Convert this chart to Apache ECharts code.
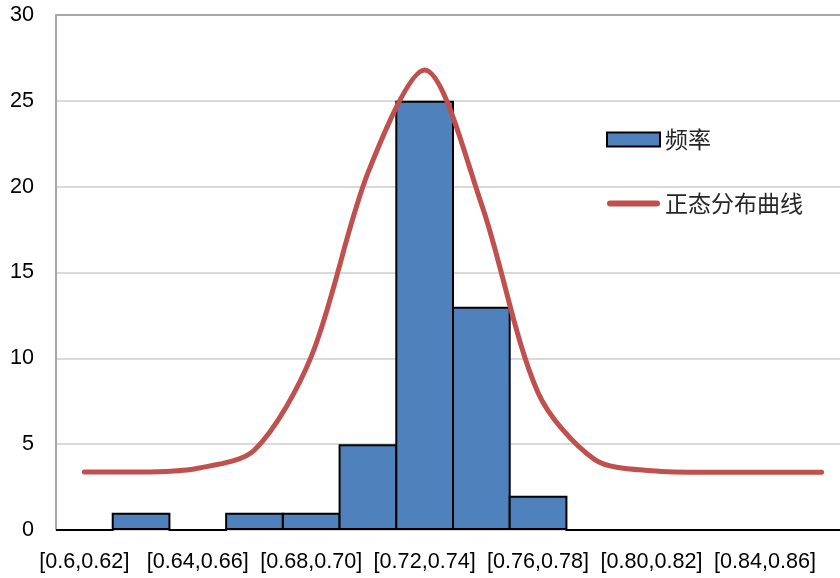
<!DOCTYPE html>
<html>
<head>
<meta charset="utf-8">
<script src="https://cdn.jsdelivr.net/npm/echarts@6/dist/echarts.min.js"></script>
<style>
  html, body { margin: 0; padding: 0; background: #ffffff; }
  #chart { width: 840px; height: 578px; }
</style>
</head>
<body>
<div id="chart"></div>
<script>
// Histogram bins (class intervals)
const categories = [
  '[0.6,0.62]', '[0.62,0.64]', '[0.64,0.66]', '[0.66,0.68]', '[0.68,0.70]',
  '[0.70,0.72]', '[0.72,0.74]', '[0.74,0.76]', '[0.76,0.78]', '[0.78,0.80]',
  '[0.80,0.82]', '[0.82,0.84]', '[0.84,0.86]', '[0.86,0.88]'
];
// Frequency per bin
const frequency = [0, 1, 0, 1, 1, 5, 25, 13, 2, 0, 0, 0, 0, 0];
// Fitted normal distribution curve, sampled at each bin centre
const normalCurve = [3.38, 3.38, 3.6, 4.66, 10.1, 20.8, 26.8, 19.0, 8.0, 4.1, 3.45, 3.36, 3.36, 3.37];
// Y axis ticks
const yTicks = { min: 0, max: 30, interval: 5 };

const chart = echarts.init(document.getElementById('chart'), null, { renderer: 'canvas' });

const latin = '"Liberation Sans", Arial, sans-serif';
const cjk = '"Noto Sans CJK SC", "Liberation Sans", sans-serif';

// Rounded bar used as the legend marker of the curve
const lineIcon = 'path://M3,0 H50 A3,3 0 0 1 50,6 H3 A3,3 0 0 1 3,0 Z';

chart.setOption({
  animation: false,
  backgroundColor: '#ffffff',
  grid: {
    left: 56, top: 15, width: 794, bottom: 48,
    containLabel: false,
    outerBoundsMode: 'none'
  },
  legend: {
    orient: 'vertical',
    left: 606,
    top: 128,
    padding: 0,
    itemWidth: 53,
    itemHeight: 14,
    itemGap: 41,
    textStyle: { fontFamily: cjk, fontSize: 23, lineHeight: 23, color: '#262626' },
    data: [
      { name: '频率', icon: 'rect' },
      { name: '正态分布曲线', icon: lineIcon }
    ]
  },
  xAxis: {
    type: 'category',
    data: categories,
    boundaryGap: true,
    axisLine: { show: true, lineStyle: { color: '#d9d9d9', width: 2 } },
    axisTick: { show: false },
    axisLabel: {
      interval: 1,
      margin: 21,
      fontFamily: latin,
      fontSize: 21.6,
      color: '#000000'
    },
    splitLine: { show: false }
  },
  yAxis: {
    type: 'value',
    min: yTicks.min,
    max: yTicks.max,
    interval: yTicks.interval,
    axisLine: { show: true, lineStyle: { color: '#a6a6a6', width: 2 } },
    axisTick: { show: false },
    axisLabel: {
      margin: 22,
      fontFamily: latin,
      fontSize: 21.6,
      color: '#000000'
    },
    splitLine: {
      show: true,
      lineStyle: {
        width: 2,
        color: ['#d9d9d9', '#d9d9d9', '#d9d9d9', '#d9d9d9', '#d9d9d9', '#d9d9d9', '#a6a6a6']
      }
    }
  },
  series: [
    {
      name: '频率',
      type: 'bar',
      data: frequency,
      // borders are drawn inside each bar, so widen slightly to let neighbours share one edge
      barWidth: '103.5%',
      itemStyle: { color: '#4f81bd', borderColor: '#000000', borderWidth: 2 },
      z: 2
    },
    {
      name: '正态分布曲线',
      type: 'line',
      data: normalCurve,
      smooth: 0.3,
      symbol: 'none',
      lineStyle: { color: '#c0504d', width: 5, cap: 'round', join: 'round' },
      itemStyle: { color: '#c0504d' },
      z: 3
    }
  ]
});
</script>
</body>
</html>
